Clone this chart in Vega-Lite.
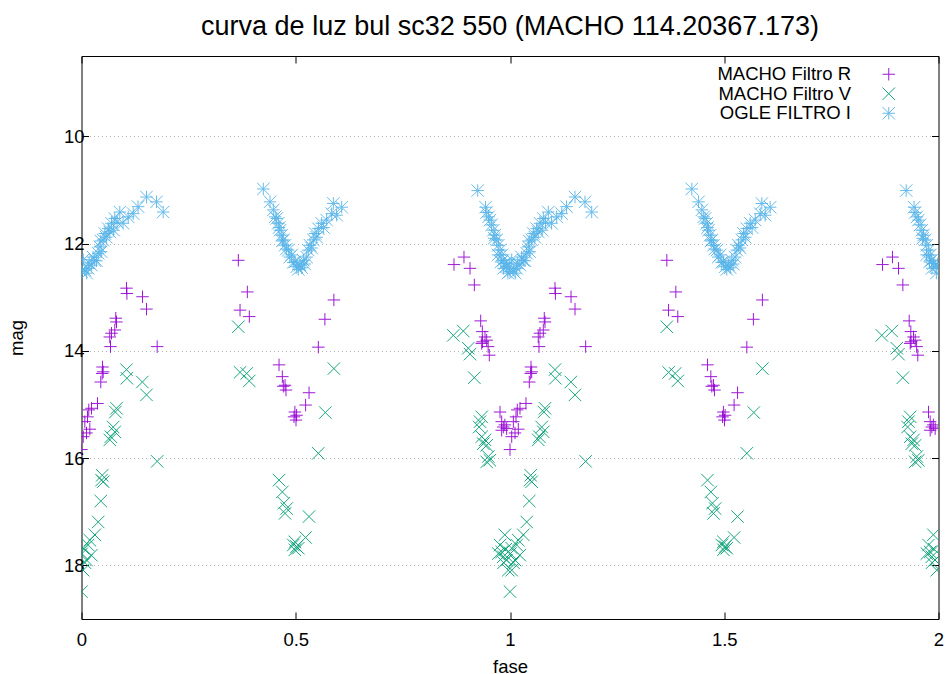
{
"$schema": "https://vega.github.io/schema/vega-lite/v6.json",
"width": 857, "height": 563,
"autosize": {"type": "none"},
"padding": {"left": 81.5, "top": 56, "right": 9.5, "bottom": 55},
"background": "white",
"title": {"text": "curva de luz bul sc32 550 (MACHO 114.20367.173)", "font": "Liberation Sans", "fontSize": 27, "fontWeight": "normal", "color": "#000", "anchor": "middle", "baseline": "alphabetic", "offset": 19, "dy": 25},
"config": {
  "view": {"stroke": "#000", "strokeWidth": 1},
  "axis": {"labelFont": "Liberation Sans", "titleFont": "Liberation Sans", "labelFontSize": 18.5, "titleFontSize": 18.5, "titleFontWeight": "normal", "labelColor": "#000", "titleColor": "#000", "tickColor": "#000", "domain": false}
},
"data": {"values": [
{"s":"R","p":0.0,"m":15.84},{"s":"R","p":1.0,"m":15.84},
{"s":"R","p":0.004,"m":15.60},{"s":"R","p":1.004,"m":15.60},
{"s":"R","p":0.0078,"m":15.32},{"s":"R","p":1.0078,"m":15.32},
{"s":"R","p":0.0117,"m":15.53},{"s":"R","p":1.0117,"m":15.53},
{"s":"R","p":0.014,"m":15.23},{"s":"R","p":1.014,"m":15.23},
{"s":"R","p":0.017,"m":15.10},{"s":"R","p":1.017,"m":15.10},
{"s":"R","p":0.0194,"m":15.46},{"s":"R","p":1.0194,"m":15.46},
{"s":"R","p":0.0233,"m":15.07},{"s":"R","p":1.0233,"m":15.07},
{"s":"R","p":0.0373,"m":14.98},{"s":"R","p":1.0373,"m":14.98},
{"s":"R","p":0.045,"m":14.58},{"s":"R","p":1.045,"m":14.58},
{"s":"R","p":0.0483,"m":14.42},{"s":"R","p":1.0483,"m":14.42},
{"s":"R","p":0.049,"m":14.30},{"s":"R","p":1.049,"m":14.30},
{"s":"R","p":0.0506,"m":14.39},{"s":"R","p":1.0506,"m":14.39},
{"s":"R","p":0.066,"m":13.74},{"s":"R","p":1.066,"m":13.74},
{"s":"R","p":0.0677,"m":13.92},{"s":"R","p":1.0677,"m":13.92},
{"s":"R","p":0.07,"m":13.67},{"s":"R","p":1.07,"m":13.67},
{"s":"R","p":0.0777,"m":13.61},{"s":"R","p":1.0777,"m":13.61},
{"s":"R","p":0.08,"m":13.39},{"s":"R","p":1.08,"m":13.39},
{"s":"R","p":0.0817,"m":13.46},{"s":"R","p":1.0817,"m":13.46},
{"s":"R","p":0.105,"m":12.83},{"s":"R","p":1.105,"m":12.83},
{"s":"R","p":0.106,"m":12.93},{"s":"R","p":1.106,"m":12.93},
{"s":"R","p":0.1424,"m":12.99},{"s":"R","p":1.1424,"m":12.99},
{"s":"R","p":0.1517,"m":13.22},{"s":"R","p":1.1517,"m":13.22},
{"s":"R","p":0.1766,"m":13.92},{"s":"R","p":1.1766,"m":13.92},
{"s":"R","p":0.366,"m":12.31},{"s":"R","p":1.366,"m":12.31},
{"s":"R","p":0.37,"m":13.24},{"s":"R","p":1.37,"m":13.24},
{"s":"R","p":0.387,"m":12.90},{"s":"R","p":1.387,"m":12.90},
{"s":"R","p":0.3916,"m":13.36},{"s":"R","p":1.3916,"m":13.36},
{"s":"R","p":0.461,"m":14.26},{"s":"R","p":1.461,"m":14.26},
{"s":"R","p":0.4687,"m":14.48},{"s":"R","p":1.4687,"m":14.48},
{"s":"R","p":0.471,"m":14.66},{"s":"R","p":1.471,"m":14.66},
{"s":"R","p":0.475,"m":14.64},{"s":"R","p":1.475,"m":14.64},
{"s":"R","p":0.4772,"m":14.73},{"s":"R","p":1.4772,"m":14.73},
{"s":"R","p":0.496,"m":15.23},{"s":"R","p":1.496,"m":15.23},
{"s":"R","p":0.498,"m":15.14},{"s":"R","p":1.498,"m":15.14},
{"s":"R","p":0.5006,"m":15.29},{"s":"R","p":1.5006,"m":15.29},
{"s":"R","p":0.502,"m":15.20},{"s":"R","p":1.502,"m":15.20},
{"s":"R","p":0.523,"m":15.01},{"s":"R","p":1.523,"m":15.01},
{"s":"R","p":0.531,"m":14.78},{"s":"R","p":1.531,"m":14.78},
{"s":"R","p":0.5527,"m":13.93},{"s":"R","p":1.5527,"m":13.93},
{"s":"R","p":0.568,"m":13.41},{"s":"R","p":1.568,"m":13.41},
{"s":"R","p":0.589,"m":13.05},{"s":"R","p":1.589,"m":13.05},
{"s":"R","p":0.8693,"m":12.39},{"s":"R","p":1.8693,"m":12.39},
{"s":"R","p":0.8926,"m":12.25},{"s":"R","p":1.8926,"m":12.25},
{"s":"R","p":0.9067,"m":12.46},{"s":"R","p":1.9067,"m":12.46},
{"s":"R","p":0.9168,"m":12.77},{"s":"R","p":1.9168,"m":12.77},
{"s":"R","p":0.9316,"m":13.44},{"s":"R","p":1.9316,"m":13.44},
{"s":"R","p":0.934,"m":13.86},{"s":"R","p":1.934,"m":13.86},
{"s":"R","p":0.9354,"m":13.64},{"s":"R","p":1.9354,"m":13.64},
{"s":"R","p":0.936,"m":13.83},{"s":"R","p":1.936,"m":13.83},
{"s":"R","p":0.9417,"m":13.74},{"s":"R","p":1.9417,"m":13.74},
{"s":"R","p":0.9456,"m":13.80},{"s":"R","p":1.9456,"m":13.80},
{"s":"R","p":0.949,"m":13.92},{"s":"R","p":1.949,"m":13.92},
{"s":"R","p":0.9517,"m":14.08},{"s":"R","p":1.9517,"m":14.08},
{"s":"R","p":0.9767,"m":15.14},{"s":"R","p":1.9767,"m":15.14},
{"s":"R","p":0.9806,"m":15.32},{"s":"R","p":1.9806,"m":15.32},
{"s":"R","p":0.9806,"m":15.48},{"s":"R","p":1.9806,"m":15.48},
{"s":"R","p":0.9844,"m":15.42},{"s":"R","p":1.9844,"m":15.42},
{"s":"R","p":0.988,"m":15.38},{"s":"R","p":1.988,"m":15.38},
{"s":"R","p":0.9922,"m":15.45},{"s":"R","p":1.9922,"m":15.45},
{"s":"V","p":0.001,"m":17.78},{"s":"V","p":1.001,"m":17.78},
{"s":"V","p":0.0,"m":18.49},{"s":"V","p":1.0,"m":18.49},
{"s":"V","p":0.004,"m":17.68},{"s":"V","p":1.004,"m":17.68},
{"s":"V","p":0.004,"m":18.09},{"s":"V","p":1.004,"m":18.09},
{"s":"V","p":0.008,"m":17.95},{"s":"V","p":1.008,"m":17.95},
{"s":"V","p":0.0117,"m":17.90},{"s":"V","p":1.0117,"m":17.90},
{"s":"V","p":0.0156,"m":17.62},{"s":"V","p":1.0156,"m":17.62},
{"s":"V","p":0.0194,"m":17.53},{"s":"V","p":1.0194,"m":17.53},
{"s":"V","p":0.023,"m":17.81},{"s":"V","p":1.023,"m":17.81},
{"s":"V","p":0.031,"m":17.43},{"s":"V","p":1.031,"m":17.43},
{"s":"V","p":0.039,"m":17.19},{"s":"V","p":1.039,"m":17.19},
{"s":"V","p":0.045,"m":16.80},{"s":"V","p":1.045,"m":16.80},
{"s":"V","p":0.0467,"m":16.41},{"s":"V","p":1.0467,"m":16.41},
{"s":"V","p":0.0483,"m":16.32},{"s":"V","p":1.0483,"m":16.32},
{"s":"V","p":0.0506,"m":16.44},{"s":"V","p":1.0506,"m":16.44},
{"s":"V","p":0.066,"m":15.66},{"s":"V","p":1.066,"m":15.66},
{"s":"V","p":0.0685,"m":15.60},{"s":"V","p":1.0685,"m":15.60},
{"s":"V","p":0.074,"m":15.42},{"s":"V","p":1.074,"m":15.42},
{"s":"V","p":0.0777,"m":15.51},{"s":"V","p":1.0777,"m":15.51},
{"s":"V","p":0.079,"m":15.14},{"s":"V","p":1.079,"m":15.14},
{"s":"V","p":0.0817,"m":15.07},{"s":"V","p":1.0817,"m":15.07},
{"s":"V","p":0.105,"m":14.35},{"s":"V","p":1.105,"m":14.35},
{"s":"V","p":0.106,"m":14.51},{"s":"V","p":1.106,"m":14.51},
{"s":"V","p":0.142,"m":14.58},{"s":"V","p":1.142,"m":14.58},
{"s":"V","p":0.1517,"m":14.82},{"s":"V","p":1.1517,"m":14.82},
{"s":"V","p":0.1766,"m":16.06},{"s":"V","p":1.1766,"m":16.06},
{"s":"V","p":0.366,"m":13.55},{"s":"V","p":1.366,"m":13.55},
{"s":"V","p":0.37,"m":14.40},{"s":"V","p":1.37,"m":14.40},
{"s":"V","p":0.3855,"m":14.42},{"s":"V","p":1.3855,"m":14.42},
{"s":"V","p":0.3916,"m":14.56},{"s":"V","p":1.3916,"m":14.56},
{"s":"V","p":0.461,"m":16.41},{"s":"V","p":1.461,"m":16.41},
{"s":"V","p":0.4687,"m":16.63},{"s":"V","p":1.4687,"m":16.63},
{"s":"V","p":0.4726,"m":16.84},{"s":"V","p":1.4726,"m":16.84},
{"s":"V","p":0.475,"m":17.03},{"s":"V","p":1.475,"m":17.03},
{"s":"V","p":0.4788,"m":16.94},{"s":"V","p":1.4788,"m":16.94},
{"s":"V","p":0.4943,"m":17.62},{"s":"V","p":1.4943,"m":17.62},
{"s":"V","p":0.498,"m":17.56},{"s":"V","p":1.498,"m":17.56},
{"s":"V","p":0.498,"m":17.71},{"s":"V","p":1.498,"m":17.71},
{"s":"V","p":0.502,"m":17.65},{"s":"V","p":1.502,"m":17.65},
{"s":"V","p":0.506,"m":17.68},{"s":"V","p":1.506,"m":17.68},
{"s":"V","p":0.523,"m":17.48},{"s":"V","p":1.523,"m":17.48},
{"s":"V","p":0.531,"m":17.09},{"s":"V","p":1.531,"m":17.09},
{"s":"V","p":0.5527,"m":15.91},{"s":"V","p":1.5527,"m":15.91},
{"s":"V","p":0.569,"m":15.15},{"s":"V","p":1.569,"m":15.15},
{"s":"V","p":0.589,"m":14.33},{"s":"V","p":1.589,"m":14.33},
{"s":"V","p":0.8677,"m":13.71},{"s":"V","p":1.8677,"m":13.71},
{"s":"V","p":0.891,"m":13.63},{"s":"V","p":1.891,"m":13.63},
{"s":"V","p":0.9027,"m":13.95},{"s":"V","p":1.9027,"m":13.95},
{"s":"V","p":0.9067,"m":14.06},{"s":"V","p":1.9067,"m":14.06},
{"s":"V","p":0.9168,"m":14.50},{"s":"V","p":1.9168,"m":14.50},
{"s":"V","p":0.928,"m":15.42},{"s":"V","p":1.928,"m":15.42},
{"s":"V","p":0.930,"m":15.32},{"s":"V","p":1.930,"m":15.32},
{"s":"V","p":0.934,"m":15.23},{"s":"V","p":1.934,"m":15.23},
{"s":"V","p":0.934,"m":15.60},{"s":"V","p":1.934,"m":15.60},
{"s":"V","p":0.9377,"m":15.73},{"s":"V","p":1.9377,"m":15.73},
{"s":"V","p":0.9417,"m":15.66},{"s":"V","p":1.9417,"m":15.66},
{"s":"V","p":0.9456,"m":15.76},{"s":"V","p":1.9456,"m":15.76},
{"s":"V","p":0.9456,"m":16.07},{"s":"V","p":1.9456,"m":16.07},
{"s":"V","p":0.9494,"m":15.97},{"s":"V","p":1.9494,"m":15.97},
{"s":"V","p":0.953,"m":16.04},{"s":"V","p":1.953,"m":16.04},
{"s":"V","p":0.9727,"m":17.78},{"s":"V","p":1.9727,"m":17.78},
{"s":"V","p":0.9767,"m":17.62},{"s":"V","p":1.9767,"m":17.62},
{"s":"V","p":0.9806,"m":17.75},{"s":"V","p":1.9806,"m":17.75},
{"s":"V","p":0.9844,"m":17.84},{"s":"V","p":1.9844,"m":17.84},
{"s":"V","p":0.985,"m":17.95},{"s":"V","p":1.985,"m":17.95},
{"s":"V","p":0.988,"m":17.43},{"s":"V","p":1.988,"m":17.43},
{"s":"V","p":0.99,"m":17.70},{"s":"V","p":1.99,"m":17.70},
{"s":"V","p":0.992,"m":17.90},{"s":"V","p":1.992,"m":17.90},
{"s":"V","p":0.996,"m":18.09},{"s":"V","p":1.996,"m":18.09},
{"s":"I","p":0.0,"m":12.52},{"s":"I","p":1.0,"m":12.52},
{"s":"I","p":0.004,"m":12.30},{"s":"I","p":1.004,"m":12.30},
{"s":"I","p":0.0078,"m":12.49},{"s":"I","p":1.0078,"m":12.49},
{"s":"I","p":0.012,"m":12.55},{"s":"I","p":1.012,"m":12.55},
{"s":"I","p":0.0156,"m":12.46},{"s":"I","p":1.0156,"m":12.46},
{"s":"I","p":0.018,"m":12.36},{"s":"I","p":1.018,"m":12.36},
{"s":"I","p":0.023,"m":12.40},{"s":"I","p":1.023,"m":12.40},
{"s":"I","p":0.027,"m":12.25},{"s":"I","p":1.027,"m":12.25},
{"s":"I","p":0.031,"m":12.31},{"s":"I","p":1.031,"m":12.31},
{"s":"I","p":0.035,"m":12.32},{"s":"I","p":1.035,"m":12.32},
{"s":"I","p":0.039,"m":12.18},{"s":"I","p":1.039,"m":12.18},
{"s":"I","p":0.0428,"m":12.06},{"s":"I","p":1.0428,"m":12.06},
{"s":"I","p":0.046,"m":12.15},{"s":"I","p":1.046,"m":12.15},
{"s":"I","p":0.045,"m":11.95},{"s":"I","p":1.045,"m":11.95},
{"s":"I","p":0.0506,"m":11.93},{"s":"I","p":1.0506,"m":11.93},
{"s":"I","p":0.0544,"m":11.81},{"s":"I","p":1.0544,"m":11.81},
{"s":"I","p":0.058,"m":11.88},{"s":"I","p":1.058,"m":11.88},
{"s":"I","p":0.0623,"m":11.72},{"s":"I","p":1.0623,"m":11.72},
{"s":"I","p":0.066,"m":11.78},{"s":"I","p":1.066,"m":11.78},
{"s":"I","p":0.07,"m":11.62},{"s":"I","p":1.07,"m":11.62},
{"s":"I","p":0.075,"m":11.75},{"s":"I","p":1.075,"m":11.75},
{"s":"I","p":0.0777,"m":11.53},{"s":"I","p":1.0777,"m":11.53},
{"s":"I","p":0.083,"m":11.60},{"s":"I","p":1.083,"m":11.60},
{"s":"I","p":0.0894,"m":11.41},{"s":"I","p":1.0894,"m":11.41},
{"s":"I","p":0.097,"m":11.62},{"s":"I","p":1.097,"m":11.62},
{"s":"I","p":0.109,"m":11.50},{"s":"I","p":1.109,"m":11.50},
{"s":"I","p":0.1207,"m":11.44},{"s":"I","p":1.1207,"m":11.44},
{"s":"I","p":0.132,"m":11.31},{"s":"I","p":1.132,"m":11.31},
{"s":"I","p":0.1517,"m":11.13},{"s":"I","p":1.1517,"m":11.13},
{"s":"I","p":0.175,"m":11.22},{"s":"I","p":1.175,"m":11.22},
{"s":"I","p":0.1906,"m":11.41},{"s":"I","p":1.1906,"m":11.41},
{"s":"I","p":0.4243,"m":10.98},{"s":"I","p":1.4243,"m":10.98},
{"s":"I","p":0.44,"m":11.22},{"s":"I","p":1.44,"m":11.22},
{"s":"I","p":0.4477,"m":11.37},{"s":"I","p":1.4477,"m":11.37},
{"s":"I","p":0.452,"m":11.50},{"s":"I","p":1.452,"m":11.50},
{"s":"I","p":0.4555,"m":11.53},{"s":"I","p":1.4555,"m":11.53},
{"s":"I","p":0.4593,"m":11.62},{"s":"I","p":1.4593,"m":11.62},
{"s":"I","p":0.461,"m":11.70},{"s":"I","p":1.461,"m":11.70},
{"s":"I","p":0.4632,"m":11.75},{"s":"I","p":1.4632,"m":11.75},
{"s":"I","p":0.4672,"m":11.84},{"s":"I","p":1.4672,"m":11.84},
{"s":"I","p":0.469,"m":11.95},{"s":"I","p":1.469,"m":11.95},
{"s":"I","p":0.471,"m":11.93},{"s":"I","p":1.471,"m":11.93},
{"s":"I","p":0.4749,"m":12.03},{"s":"I","p":1.4749,"m":12.03},
{"s":"I","p":0.478,"m":12.10},{"s":"I","p":1.478,"m":12.10},
{"s":"I","p":0.4827,"m":12.12},{"s":"I","p":1.4827,"m":12.12},
{"s":"I","p":0.486,"m":12.25},{"s":"I","p":1.486,"m":12.25},
{"s":"I","p":0.4905,"m":12.21},{"s":"I","p":1.4905,"m":12.21},
{"s":"I","p":0.494,"m":12.35},{"s":"I","p":1.494,"m":12.35},
{"s":"I","p":0.4982,"m":12.34},{"s":"I","p":1.4982,"m":12.34},
{"s":"I","p":0.5022,"m":12.43},{"s":"I","p":1.5022,"m":12.43},
{"s":"I","p":0.506,"m":12.48},{"s":"I","p":1.506,"m":12.48},
{"s":"I","p":0.51,"m":12.40},{"s":"I","p":1.51,"m":12.40},
{"s":"I","p":0.514,"m":12.45},{"s":"I","p":1.514,"m":12.45},
{"s":"I","p":0.5177,"m":12.31},{"s":"I","p":1.5177,"m":12.31},
{"s":"I","p":0.521,"m":12.38},{"s":"I","p":1.521,"m":12.38},
{"s":"I","p":0.5255,"m":12.25},{"s":"I","p":1.5255,"m":12.25},
{"s":"I","p":0.5293,"m":12.12},{"s":"I","p":1.5293,"m":12.12},
{"s":"I","p":0.5333,"m":12.03},{"s":"I","p":1.5333,"m":12.03},
{"s":"I","p":0.537,"m":12.08},{"s":"I","p":1.537,"m":12.08},
{"s":"I","p":0.541,"m":11.93},{"s":"I","p":1.541,"m":11.93},
{"s":"I","p":0.545,"m":11.81},{"s":"I","p":1.545,"m":11.81},
{"s":"I","p":0.549,"m":11.88},{"s":"I","p":1.549,"m":11.88},
{"s":"I","p":0.5527,"m":11.72},{"s":"I","p":1.5527,"m":11.72},
{"s":"I","p":0.5605,"m":11.62},{"s":"I","p":1.5605,"m":11.62},
{"s":"I","p":0.565,"m":11.70},{"s":"I","p":1.565,"m":11.70},
{"s":"I","p":0.5722,"m":11.56},{"s":"I","p":1.5722,"m":11.56},
{"s":"I","p":0.584,"m":11.44},{"s":"I","p":1.584,"m":11.44},
{"s":"I","p":0.5877,"m":11.25},{"s":"I","p":1.5877,"m":11.25},
{"s":"I","p":0.5955,"m":11.47},{"s":"I","p":1.5955,"m":11.47},
{"s":"I","p":0.6072,"m":11.32},{"s":"I","p":1.6072,"m":11.32},
{"s":"I","p":0.9246,"m":11.01},{"s":"I","p":1.9246,"m":11.01},
{"s":"I","p":0.943,"m":11.32},{"s":"I","p":1.943,"m":11.32},
{"s":"I","p":0.9456,"m":11.42},{"s":"I","p":1.9456,"m":11.42},
{"s":"I","p":0.95,"m":11.50},{"s":"I","p":1.95,"m":11.50},
{"s":"I","p":0.953,"m":11.56},{"s":"I","p":1.953,"m":11.56},
{"s":"I","p":0.957,"m":11.65},{"s":"I","p":1.957,"m":11.65},
{"s":"I","p":0.961,"m":11.75},{"s":"I","p":1.961,"m":11.75},
{"s":"I","p":0.963,"m":11.90},{"s":"I","p":1.963,"m":11.90},
{"s":"I","p":0.965,"m":11.84},{"s":"I","p":1.965,"m":11.84},
{"s":"I","p":0.969,"m":11.93},{"s":"I","p":1.969,"m":11.93},
{"s":"I","p":0.972,"m":12.21},{"s":"I","p":1.972,"m":12.21},
{"s":"I","p":0.9727,"m":12.03},{"s":"I","p":1.9727,"m":12.03},
{"s":"I","p":0.977,"m":12.12},{"s":"I","p":1.977,"m":12.12},
{"s":"I","p":0.979,"m":12.34},{"s":"I","p":1.979,"m":12.34},
{"s":"I","p":0.981,"m":12.21},{"s":"I","p":1.981,"m":12.21},
{"s":"I","p":0.984,"m":12.31},{"s":"I","p":1.984,"m":12.31},
{"s":"I","p":0.985,"m":12.46},{"s":"I","p":1.985,"m":12.46},
{"s":"I","p":0.988,"m":12.37},{"s":"I","p":1.988,"m":12.37},
{"s":"I","p":0.992,"m":12.43},{"s":"I","p":1.992,"m":12.43},
{"s":"I","p":0.995,"m":12.55},{"s":"I","p":1.995,"m":12.55},
{"s":"I","p":0.998,"m":12.38},{"s":"I","p":1.998,"m":12.38}
]},
"layer": [
  {
    "mark": {"type": "point", "filled": false, "strokeWidth": 1, "size": 155, "opacity": 0.9, "clip": true},
    "encoding": {
      "x": {"field": "p", "type": "quantitative", "scale": {"domain": [0, 2], "nice": false, "zero": false},
            "axis": {"title": "fase", "values": [0, 0.5, 1, 1.5, 2], "format": "~g", "grid": false, "tickSize": -7, "labelPadding": 18, "titlePadding": 9, "labelFlush": false}},
      "y": {"field": "m", "type": "quantitative", "scale": {"domain": [8.5, 19], "reverse": true, "nice": false, "zero": false},
            "axis": {"title": "mag", "values": [10, 12, 14, 16, 18], "grid": true, "gridDash": [1, 3], "gridColor": "#b4b4b4", "tickSize": -7, "labelPadding": 4.5, "titlePadding": 37}},
      "color": {"field": "s", "type": "nominal",
                "scale": {"domain": ["R", "V", "I"], "range": ["#9400d3", "#009e73", "#56b4e9"]},
                "legend": {"title": null, "orient": "none", "legendX": 798, "legendY": 9, "labelAlign": "right", "labelOffset": -47, "labelFont": "Liberation Sans", "labelFontSize": 18.5, "labelColor": "#000", "symbolSize": 155, "symbolStrokeWidth": 1, "rowPadding": 0.5,
                           "labelExpr": "datum.label == 'R' ? 'MACHO Filtro R' : datum.label == 'V' ? 'MACHO Filtro V' : 'OGLE FILTRO I'"}},
      "shape": {"field": "s", "type": "nominal",
                "scale": {"domain": ["R", "V", "I"], "range": ["M-1,0L1,0M0,-1L0,1", "M-1,-1L1,1M-1,1L1,-1", "M-1,0L1,0M0,-1L0,1M-1,-1L1,1M-1,1L1,-1"]}}
    }
  },
  {
    "mark": {"type": "point", "opacity": 0},
    "encoding": {
      "x": {"field": "p", "type": "quantitative", "axis": {"orient": "top", "title": null, "labels": false, "values": [0, 0.5, 1, 1.5, 2], "grid": false, "tickSize": -7}},
      "y": {"field": "m", "type": "quantitative", "axis": {"orient": "right", "title": null, "labels": false, "values": [10, 12, 14, 16, 18], "grid": false, "tickSize": -7}}
    }
  }
],
"resolve": {"axis": {"x": "independent", "y": "independent"}}
}
